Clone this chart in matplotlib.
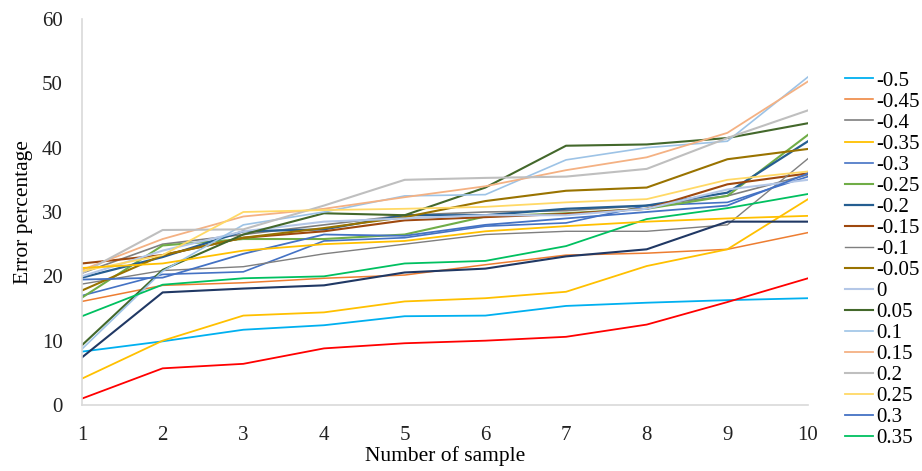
import numpy as np
from matplotlib import pyplot as plt

plt.rcParams['font.family'] = ['Liberation Serif', 'DejaVu Serif']

samples = [1, 2, 3, 4, 5, 6, 7, 8, 9, 10]

labels = ['-0.5', '-0.45', '-0.4', '-0.35', '-0.3', '-0.25', '-0.2', '-0.15', '-0.1', '-0.05',
          '0', '0.05', '0.1', '0.15', '0.2', '0.25', '0.3', '0.35', '0.4', '0.45', '0.5']

s_m050 = [8.3, 9.9, 11.7, 12.4, 13.8, 13.9, 15.4, 15.9, 16.3, 16.6]
s_m045 = [16.1, 18.6, 19.0, 19.7, 20.2, 21.8, 23.3, 23.6, 24.2, 26.8]
s_m040 = [20.5, 25.0, 26.5, 28.0, 29.5, 30.0, 30.2, 31.0, 32.5, 35.8]
s_m035 = [4.1, 10.0, 13.9, 14.4, 16.1, 16.6, 17.6, 21.6, 24.2, 32.0]
s_m030 = [17.0, 20.3, 20.7, 25.5, 26.0, 27.8, 28.3, 31.0, 31.5, 35.5]
s_m025 = [16.7, 24.8, 25.8, 25.8, 26.5, 29.3, 29.8, 30.5, 32.5, 42.0]
s_m020 = [19.8, 23.0, 27.0, 27.3, 29.5, 29.5, 30.5, 31.0, 33.0, 41.0]
s_m015 = [22.0, 23.3, 26.0, 27.0, 28.7, 29.2, 29.7, 30.5, 34.3, 36.0]
s_m010 = [18.8, 20.9, 21.5, 23.5, 25.0, 26.5, 27.0, 27.0, 28.0, 38.3]
s_m005 = [17.8, 23.3, 26.0, 27.5, 29.2, 31.7, 33.3, 33.8, 38.2, 39.8]
s_000 = [20.0, 24.0, 27.0, 28.5, 29.0, 29.5, 29.5, 30.5, 33.5, 35.0]
s_005 = [9.3, 21.0, 26.5, 29.8, 29.5, 33.8, 40.3, 40.5, 41.5, 43.8]
s_010 = [8.7, 20.8, 28.0, 30.0, 32.5, 32.7, 38.1, 40.0, 41.0, 51.0]
s_015 = [21.0, 25.8, 29.3, 30.5, 32.3, 34.0, 36.5, 38.5, 42.3, 50.3]
s_020 = [20.5, 27.2, 27.3, 31.0, 35.0, 35.3, 35.5, 36.7, 41.5, 45.8]
s_025 = [20.8, 23.3, 30.0, 30.3, 30.5, 30.8, 31.5, 32.0, 35.0, 36.3]
s_030 = [19.5, 19.8, 23.5, 26.5, 26.3, 28.0, 29.0, 30.0, 31.0, 36.0]
s_035 = [13.8, 18.7, 19.7, 20.0, 22.0, 22.4, 24.7, 28.9, 30.6, 32.8]
s_040 = [21.3, 22.0, 24.0, 25.0, 25.5, 27.0, 27.8, 28.5, 29.0, 29.4]
s_045 = [7.4, 17.5, 18.1, 18.6, 20.6, 21.2, 23.1, 24.2, 28.5, 28.5]
s_050 = [1.0, 5.7, 6.4, 8.8, 9.6, 10.0, 10.6, 12.5, 16.0, 19.7]

series = [s_m050, s_m045, s_m040, s_m035, s_m030, s_m025, s_m020, s_m015, s_m010, s_m005,
          s_000, s_005, s_010, s_015, s_020, s_025, s_030, s_035, s_040, s_045, s_050]

colors = ['#00B0F0', '#ED7D31', '#7F7F7F', '#FFC000', '#4472C4', '#70AD47', '#255E91',
          '#9E480E', '#7F7F7F', '#997300', '#B4C7E7', '#43682B', '#9DC3E6', '#F4B183',
          '#BFBFBF', '#FFD966', '#4472C4', '#00C060', '#FFC000', '#203864', '#FF0000']
widths = [1.3, 1.1, 1.2, 1.3, 1.2, 1.5, 1.6, 1.5, 1.0, 1.5,
          1.5, 1.5, 1.2, 1.3, 1.5, 1.3, 1.3, 1.3, 1.3, 1.5, 1.3]

fig = plt.figure(figsize=(9.22, 4.71), dpi=100)
ax = fig.add_axes([0.0889, 0.1401, 0.7875, 0.8196])

handles = []
for lab, vals, c, w in zip(labels, series, colors, widths):
    h, = ax.plot(samples, vals, color=c, lw=w, label=lab)
    handles.append(h)

ax.set_xlim(1, 10)
ax.set_ylim(0, 60)
ax.set_xticks(samples)
ax.set_yticks(np.arange(0, 61, 10))
ax.tick_params(axis='both', length=0, labelsize=15, colors='#222222')
ax.tick_params(axis='x', pad=15)
ax.tick_params(axis='y', pad=14)
for side in ['top', 'right']:
    ax.spines[side].set_visible(False)
for side in ['left', 'bottom']:
    ax.spines[side].set_color('#D9D9D9')
    ax.spines[side].set_linewidth(1.2)

ax.set_ylabel('Error percentage', fontsize=15.5, labelpad=6)
ax.set_xlabel('Number of sample', fontsize=15.5, labelpad=1)

# Excel cuts the legend after 0.35
fig.legend(handles=handles[:18], loc='upper left', bbox_to_anchor=(0.917, 0.849),
           frameon=False, fontsize=15, borderpad=0, borderaxespad=0,
           handlelength=1.3, handletextpad=0.2, labelspacing=0.07)

fig.savefig('out.png', dpi=100)
